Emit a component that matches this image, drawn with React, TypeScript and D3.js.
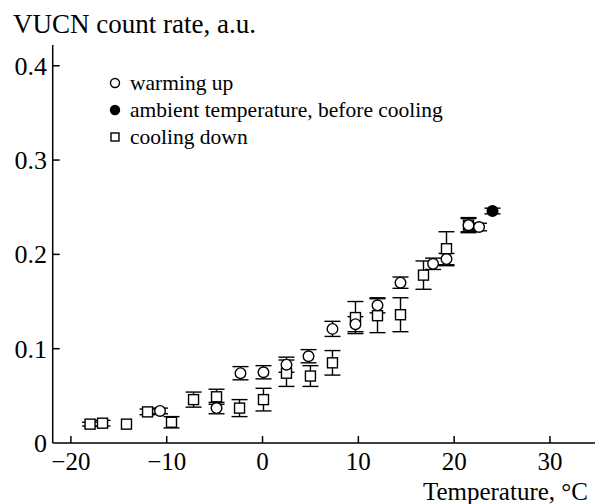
import React from "react";
import * as d3 from "d3";

// warming up (open circles)
const warmT = [-10.7, -4.8, -2.3, 0.1, 2.5, 4.8, 7.3, 9.7, 12.0, 14.4, 17.8, 19.2, 21.5, 22.6];
const warmV = [0.034, 0.037, 0.074, 0.075, 0.083, 0.092, 0.121, 0.126, 0.146, 0.17, 0.19, 0.195, 0.231, 0.229];
const warmE = [0.003, 0.006, 0.007, 0.007, 0.008, 0.007, 0.008, 0.008, 0.008, 0.006, 0.006, 0.006, 0.007, 0.004];

// cooling down (open squares)
const coolT = [-18.0, -16.7, -14.2, -12.0, -9.5, -7.2, -4.8, -2.4, 0.1, 2.5, 5.0, 7.3, 9.7, 12.0, 14.4, 16.8, 19.2, 21.5];
const coolV = [0.02, 0.021, 0.02, 0.033, 0.022, 0.046, 0.049, 0.037, 0.046, 0.074, 0.071, 0.085, 0.133, 0.135, 0.136, 0.178, 0.206, 0.231];
const coolE = [0.002, 0.003, 0.0, 0.003, 0.006, 0.008, 0.008, 0.009, 0.012, 0.014, 0.011, 0.013, 0.017, 0.018, 0.018, 0.015, 0.018, 0.008];

// ambient temperature, before cooling (filled circle)
const ambT = [24.0];
const ambV = [0.246];
const ambE = [0.003];

const xTicks = [-20, -10, 0, 10, 20, 30];
const yTicks = [0, 0.1, 0.2, 0.3, 0.4];
const yTickLabels = ["0", "0.1", "0.2", "0.3", "0.4"];

const legendItems = ["warming up", "ambient temperature, before cooling", "cooling down"];

const W = 595;
const H = 504;
const font = "'Liberation Serif', 'Times New Roman', serif";

export default function App() {
  const x = d3.scaleLinear().domain([-21.9, 34.7]).range([52.7, 595]);
  const y = d3.scaleLinear().domain([0, 0.422]).range([443, 45]);

  const errBars = (ts: number[], vs: number[], es: number[], key: string) =>
    ts.map((t, i) => {
      if (!es[i]) return null;
      const cx = x(t);
      const y1 = y(vs[i] - es[i]);
      const y2 = y(vs[i] + es[i]);
      return (
        <g key={key + i} stroke="#000" strokeWidth={1.4}>
          <line x1={cx} x2={cx} y1={y1} y2={y2} />
          <line x1={cx - 8} x2={cx + 8} y1={y1} y2={y1} />
          <line x1={cx - 8} x2={cx + 8} y1={y2} y2={y2} />
        </g>
      );
    });

  return (
    <svg
      width={W}
      height={H}
      style={{ position: "absolute", left: 0, top: 0, background: "#fff" }}
      fontFamily={font}
    >
      <text x={13} y={33} fontSize={27}>VUCN count rate, a.u.</text>

      {/* axes */}
      <line x1={x.range()[0]} x2={x.range()[0]} y1={y(0)} y2={y.range()[1]} stroke="#000" strokeWidth={1.5} />
      <line x1={x.range()[0]} x2={W} y1={y(0)} y2={y(0)} stroke="#000" strokeWidth={1.5} />

      {xTicks.map((t) => (
        <g key={"xt" + t}>
          <line x1={x(t)} x2={x(t)} y1={y(0)} y2={y(0) - 7} stroke="#000" strokeWidth={1.5} />
          <text x={x(t)} y={470} fontSize={25} textAnchor="middle">
            {t < 0 ? "\u2212" + Math.abs(t) : String(t)}
          </text>
        </g>
      ))}
      {yTicks.map((v, i) => (
        <g key={"yt" + v}>
          {v > 0 && (
            <line x1={x.range()[0]} x2={x.range()[0] + 7} y1={y(v)} y2={y(v)} stroke="#000" strokeWidth={1.5} />
          )}
          <text x={47} y={y(v) + 9} fontSize={26} textAnchor="end">
            {yTickLabels[i]}
          </text>
        </g>
      ))}

      <text x={588} y={500} fontSize={25} textAnchor="end">Temperature, °C</text>

      {/* error bars */}
      {errBars(coolT, coolV, coolE, "ce")}
      {errBars(warmT, warmV, warmE, "we")}
      {errBars(ambT, ambV, ambE, "ae")}

      {/* markers */}
      {coolT.map((t, i) => (
        <rect
          key={"c" + i}
          x={x(t) - 5}
          y={y(coolV[i]) - 5}
          width={10}
          height={10}
          fill="#fff"
          stroke="#000"
          strokeWidth={1.4}
        />
      ))}
      {warmT.map((t, i) => (
        <circle key={"w" + i} cx={x(t)} cy={y(warmV[i])} r={5.3} fill="#fff" stroke="#000" strokeWidth={1.4} />
      ))}
      {ambT.map((t, i) => (
        <circle key={"a" + i} cx={x(t)} cy={y(ambV[i])} r={5.3} fill="#000" stroke="#000" strokeWidth={1.4} />
      ))}

      {/* legend */}
      <g fontSize={21.5}>
        <circle cx={115} cy={83} r={4.5} fill="#fff" stroke="#000" strokeWidth={1.4} />
        <text x={130} y={90}>{legendItems[0]}</text>
        <circle cx={115} cy={110} r={4.5} fill="#000" stroke="#000" strokeWidth={1.4} />
        <text x={130} y={117}>{legendItems[1]}</text>
        <rect x={111} y={133} width={8} height={8} fill="#fff" stroke="#000" strokeWidth={1.4} />
        <text x={130} y={144}>{legendItems[2]}</text>
      </g>
    </svg>
  );
}
